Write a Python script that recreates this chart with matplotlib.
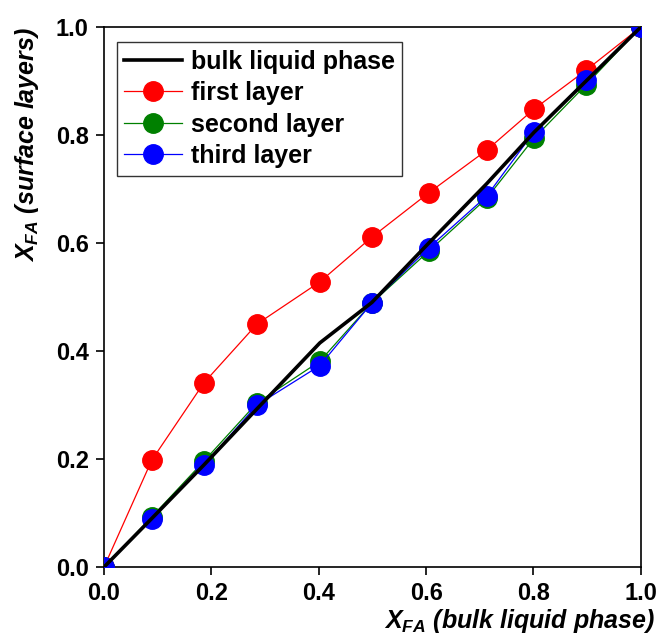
import matplotlib
matplotlib.use("Agg")
import matplotlib.pyplot as plt

plt.rcParams["font.family"] = ["Liberation Sans", "DejaVu Sans"]
plt.rcParams["font.weight"] = "bold"
plt.rcParams["mathtext.fontset"] = "custom"
plt.rcParams["mathtext.it"] = "Liberation Sans:bold:italic"
plt.rcParams["mathtext.rm"] = "Liberation Sans:bold"
plt.rcParams["mathtext.bf"] = "Liberation Sans:bold"

x_bulk = [0.0, 0.089, 0.186, 0.285, 0.402, 0.499, 0.605, 0.713, 0.801, 0.898, 1.0]
y_bulk = [0.0, 0.090, 0.189, 0.293, 0.415, 0.490, 0.600, 0.710, 0.805, 0.900, 1.0]

x_layers = [0.0, 0.089, 0.186, 0.285, 0.402, 0.499, 0.605, 0.713, 0.801, 0.898, 1.0]
y_first = [0.0, 0.198, 0.341, 0.450, 0.528, 0.611, 0.693, 0.772, 0.848, 0.920, 1.0]
y_second = [0.0, 0.093, 0.196, 0.304, 0.381, 0.489, 0.585, 0.683, 0.794, 0.893, 1.0]
y_third = [0.0, 0.089, 0.189, 0.300, 0.373, 0.489, 0.591, 0.687, 0.806, 0.902, 1.0]

ticks = [0.0, 0.2, 0.4, 0.6, 0.8, 1.0]

fig = plt.figure(figsize=(6.6, 6.35), dpi=100)
ax = fig.add_axes([0.1576, 0.107, 0.8134, 0.8505])

ax.plot(x_bulk, y_bulk, color="black", lw=2.6, zorder=5, label="bulk liquid phase")
ax.plot(x_layers, y_first, color="red", lw=0.9, marker="o", ms=14, zorder=2, label="first layer")
ax.plot(x_layers, y_second, color="green", lw=0.9, marker="o", ms=14, zorder=3, label="second layer")
ax.plot(x_layers, y_third, color="blue", lw=0.9, marker="o", ms=14, zorder=4, label="third layer")

ax.set_xlim(0, 1)
ax.set_ylim(0, 1)
ax.set_xticks(ticks)
ax.set_yticks(ticks)
ax.set_xticklabels([f"{t:.1f}" for t in ticks])
ax.set_yticklabels([f"{t:.1f}" for t in ticks])
ax.tick_params(direction="out", length=6, width=1.2, labelsize=17, top=False, right=False, pad=5)
for s in ax.spines.values():
    s.set_linewidth(1.2)

ax.set_xlabel(r"$X_{FA}$ (bulk liquid phase)", fontsize=18, fontweight="bold", style="italic",
              ha="right")
ax.xaxis.set_label_coords(1.027, -0.074)
ax.set_ylabel(r"$X_{FA}$ (surface layers)", fontsize=18, fontweight="bold", style="italic",
              ha="right")
ax.yaxis.set_label_coords(-0.117, 1.0)

leg = ax.legend(loc="upper left", bbox_to_anchor=(0.024, 0.972), fontsize=18, frameon=True,
                fancybox=False, edgecolor="black", borderpad=0.3, labelspacing=0.3,
                handlelength=2.3, handletextpad=0.35, borderaxespad=0)
leg.get_frame().set_linewidth(1.0)

fig.savefig("out.png", dpi=100)
